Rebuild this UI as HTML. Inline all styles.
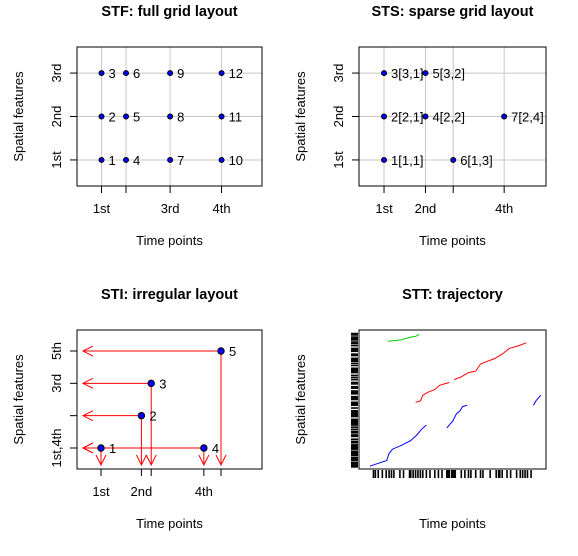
<!DOCTYPE html>
<html><head><meta charset="utf-8"><style>
body{margin:0;background:#fff}
svg{display:block;font-family:"Liberation Sans",Arial,sans-serif}
</style></head><body>
<svg id="c" width="578" height="556" viewBox="0 0 578 556"></svg>
<script>
// ---- data ----
// STF: full grid
const stfTimes=[1,2,3.8,5.9];
const stfTimeLabels=["1st","","3rd","4th"];
const stfSpace=[1,2,3];
const stfSpaceLabels=["1st","2nd","3rd"];
// STS: sparse grid
const stsTimes=[1,2,2.67,3.9];
const stsTimeLabels=["1st","2nd","","4th"];
const stsPtTime=[0,0,0,1,1,2,3];
const stsPtSpace=[1,2,3,2,3,1,2];
const stsPtLabels=["1[1,1]","2[2,1]","3[3,1]","4[2,2]","5[3,2]","6[1,3]","7[2,4]"];
// STI: irregular
const stiTimes=[1,2.65,3.05,5.2,5.9];
const stiSpace=[1,2,3,1,4];
const stiTimeLabels=["1st","2nd","","4th",""];
const stiSpaceTicks=[1,2,3,4];
const stiSpaceLabels=["1st,4th","","3rd","5th"];
// STT: trajectories (time, space)
const trajGreenT=[0.85,1.1,1.4,1.6,1.8,2.0,2.15];
const trajGreenY=[8.9,8.95,9.0,9.1,9.2,9.25,9.4];
const trajRed1T=[2.0,2.2,2.3,2.5,2.8,3.0,3.2,3.4];
const trajRed1Y=[4.6,4.7,5.1,5.3,5.5,5.8,5.9,6.0];
const trajRed2T=[3.6,3.9,4.2,4.5,4.7,5.0,5.3,5.6,5.9,6.3,6.6];
const trajRed2Y=[6.2,6.4,6.7,6.8,7.3,7.5,7.7,8.0,8.4,8.6,8.8];
const trajBlue1T=[0.1,0.45,0.8,0.9,1.05,1.45,1.8,2.05,2.25,2.45];
const trajBlue1Y=[0.1,0.3,0.5,1.0,1.3,1.6,1.9,2.3,2.7,3.0];
const trajBlue2T=[3.3,3.55,3.7,3.85,3.95,4.15];
const trajBlue2Y=[2.8,3.3,3.8,4.0,4.3,4.4];
const trajBlue3T=[6.9,7.0,7.1,7.2];
const trajBlue3Y=[4.4,4.7,4.9,5.1];
const rugX=[0.25,0.33,0.45,0.62,0.78,0.9,1.0,1.1,1.35,1.5,1.75,1.8,1.9,2.0,2.1,2.2,2.3,2.45,2.6,2.8,2.95,3.1,3.3,3.35,3.4,3.5,3.55,3.6,3.65,3.9,4.05,4.2,4.3,4.5,4.7,4.8,5.1,5.35,5.45,5.5,5.6,5.8,5.95,6.2,6.35,6.45,6.55,6.65,6.8];
const rugY=[0.05,0.15,0.25,0.35,0.5,0.6,0.7,0.85,0.95,1.05,1.15,1.3,1.4,1.5,1.6,1.75,1.85,2.0,2.2,2.3,2.45,2.55,2.7,2.85,3.0,3.1,3.2,3.3,3.4,3.6,3.7,3.8,3.9,4.0,4.2,4.4,4.5,4.6,4.8,4.9,5.0,5.2,5.3,5.4,5.6,5.7,5.9,6.0,6.2,6.35,6.5,6.7,6.8,6.9,7.0,7.2,7.35,7.5,7.6,7.7,7.9,8.0,8.2,8.3,8.4,8.6,8.75,8.85,9.0,9.1,9.2,9.35,9.45];

const NS="http://www.w3.org/2000/svg";
const svg=document.getElementById('c');
function mk(tag,attrs,parent,name,inter){const e=document.createElementNS(NS,tag);for(const k in attrs)e.setAttribute(k,attrs[k]);


(parent||svg).appendChild(e);return e;}
function txt(x,y,s,opts,name){const t=mk('text',Object.assign({x:x,y:y,'font-size':13,fill:'#000'},opts||{}),null,name,false);t.textContent=s;return t;}
function scale(d0,d1,r0,r1){return v=>r0+(v-d0)/(d1-d0)*(r1-r0);}

function panel(bx,by,bw,bh,title,pname){
  txt(bx+bw/2,by-31,title,{'font-size':14.5,'font-weight':'bold','text-anchor':'middle'},pname+'-title');
  txt(bx+bw/2,by+bh+59,'Time points',{'text-anchor':'middle'},pname+'-x-axis-title');
  txt(0,0,'Spatial features',{'text-anchor':'middle',transform:`translate(${bx-54},${by+bh/2}) rotate(-90)`},pname+'-y-axis-title');
}
function box(bx,by,bw,bh,pname){mk('rect',{x:bx,y:by,width:bw,height:bh,fill:'none',stroke:'#000','stroke-width':1},null,pname+'-plot-box',false);}
function xtick(x,by,lab,pname){mk('line',{x1:x,x2:x,y1:by,y2:by+7,stroke:'#000'},null,pname+'-x-tick',false);if(lab)txt(x,by+27,lab,{'text-anchor':'middle'},pname+'-x-tick-label');}
function ytick(y,bx,lab,pname){mk('line',{x1:bx-7,x2:bx,y1:y,y2:y,stroke:'#000'},null,pname+'-y-tick',false);if(lab)txt(0,0,lab,{'text-anchor':'middle',transform:`translate(${bx-16},${y}) rotate(-90)`},pname+'-y-tick-label');}
function pt(x,y,name,r){mk('circle',{cx:x,cy:y,r:r||3,fill:'#00f',stroke:'#000','stroke-width':1},null,name,false);}

// ---- STF ----
(function(){const bx=77,by=47,bw=185,bh=139,p='stf';
 const X=scale(0,7.55,bx,bx+bw),Y=scale(0.4,3.6,by+bh,by);
 panel(bx,by,bw,bh,'STF: full grid layout',p);
 stfTimes.forEach(t=>mk('line',{x1:X(t),x2:X(t),y1:by,y2:by+bh,stroke:'#c8c8c8'},null,p+'-grid-v',false));
 stfSpace.forEach(s=>mk('line',{x1:bx,x2:bx+bw,y1:Y(s),y2:Y(s),stroke:'#c8c8c8'},null,p+'-grid-h',false));
 box(bx,by,bw,bh,p);
 stfTimes.forEach((t,i)=>xtick(X(t),by+bh,stfTimeLabels[i],p));
 stfSpace.forEach((s,i)=>ytick(Y(s),bx,stfSpaceLabels[i],p));
 let n=1;stfTimes.forEach(t=>stfSpace.forEach(s=>{pt(X(t),Y(s),p+'-point',2.5);txt(X(t)+7,Y(s)+5,String(n++),{},p+'-point-label');}));
})();
// ---- STS ----
(function(){const bx=359,by=47,bw=187,bh=139,p='sts';
 const X=scale(0.396,4.91,bx,bx+bw),Y=scale(0.4,3.6,by+bh,by);
 panel(bx,by,bw,bh,'STS: sparse grid layout',p);
 stsTimes.forEach(t=>mk('line',{x1:X(t),x2:X(t),y1:by,y2:by+bh,stroke:'#c8c8c8'},null,p+'-grid-v',false));
 [1,2,3].forEach(s=>mk('line',{x1:bx,x2:bx+bw,y1:Y(s),y2:Y(s),stroke:'#c8c8c8'},null,p+'-grid-h',false));
 box(bx,by,bw,bh,p);
 stsTimes.forEach((t,i)=>xtick(X(t),by+bh,stsTimeLabels[i],p));
 [1,2,3].forEach((s,i)=>ytick(Y(s),bx,stfSpaceLabels[i],p));
 stsPtTime.forEach((ti,i)=>{const x=X(stsTimes[ti]),y=Y(stsPtSpace[i]);pt(x,y,p+'-point',2.5);txt(x+7,y+5,stsPtLabels[i],{},p+'-point-label');});
})();
// ---- STI ----
(function(){const bx=77,by=330,bw=185,bh=139,p='sti';
 const X=scale(0.02,7.574,bx,bx+bw),Y=scale(0.35,4.65,by+bh,by);
 panel(bx,by,bw,bh,'STI: irregular layout',p);
 box(bx,by,bw,bh,p);
 stiTimes.forEach((t,i)=>xtick(X(t),by+bh,stiTimeLabels[i],p));
 stiSpaceTicks.forEach((s,i)=>ytick(Y(s),bx,stiSpaceLabels[i],p));
 const ax=bx+6,ay=by+bh-4;
 stiTimes.forEach((t,i)=>{const x=X(t),y=Y(stiSpace[i]);
  mk('path',{d:`M${x},${y}H${ax}M${ax+10},${y-5}L${ax},${y}L${ax+10},${y+5}`,fill:'none',stroke:'#f00'},null,p+'-space-arrow',false);
  mk('path',{d:`M${x},${y}V${ay}M${x-5},${ay-10}L${x},${ay}L${x+5},${ay-10}`,fill:'none',stroke:'#f00'},null,p+'-time-arrow',false);});
 stiTimes.forEach((t,i)=>{const x=X(t),y=Y(stiSpace[i]);pt(x,y,p+'-point',3.2);txt(x+8,y+5,String(i+1),{},p+'-point-label');});
})();
// ---- STT ----
(function(){const bx=359,by=330,bw=187,bh=139,p='stt';
 const X=scale(-0.35,7.42,bx,bx+bw),Y=scale(-0.1,9.7,by+bh,by);
 panel(bx,by,bw,bh,'STT: trajectory',p);
 box(bx,by,bw,bh,p);
 const trajs=[[trajGreenT,trajGreenY,'#0c0'],[trajRed1T,trajRed1Y,'#f00'],[trajRed2T,trajRed2Y,'#f00'],[trajBlue1T,trajBlue1Y,'#00f'],[trajBlue2T,trajBlue2Y,'#00f'],[trajBlue3T,trajBlue3Y,'#00f']];
 trajs.forEach((tr,k)=>{const d=tr[0].map((t,i)=>(i?'L':'M')+X(t).toFixed(1)+','+Y(tr[1][i]).toFixed(1)).join('');
  mk('path',{d:d,fill:'none',stroke:tr[2],'stroke-width':1},null,p+'-trajectory-'+(k+1),false);});
 rugX.forEach(v=>mk('line',{x1:X(v),x2:X(v),y1:by+bh+1,y2:by+bh+9,stroke:'#000','stroke-width':1.6},null,p+'-rug-x',false));
 rugY.forEach(v=>mk('line',{x1:bx-8,x2:bx-1,y1:Y(v),y2:Y(v),stroke:'#000','stroke-width':1.6},null,p+'-rug-y',false));
})();
</script>
</body></html>
